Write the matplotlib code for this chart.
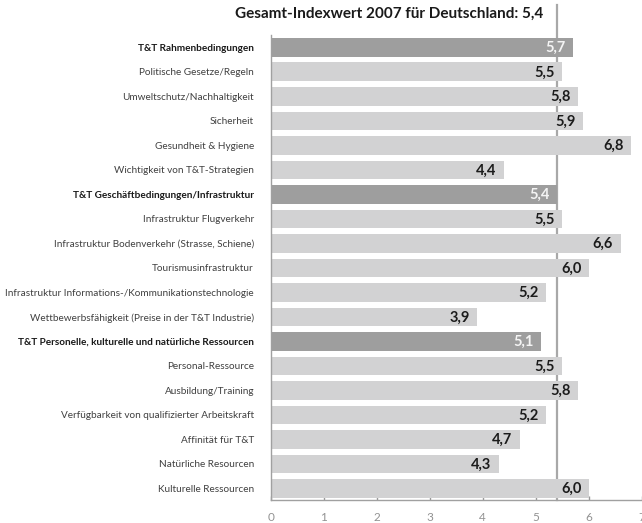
import matplotlib
matplotlib.use("Agg")
import matplotlib.pyplot as plt

categories = [
    "T&T Rahmenbedingungen",
    "Politische Gesetze/Regeln",
    "Umweltschutz/Nachhaltigkeit",
    "Sicherheit",
    "Gesundheit & Hygiene",
    "Wichtigkeit von T&T-Strategien",
    "T&T Geschäftbedingungen/Infrastruktur",
    "Infrastruktur Flugverkehr",
    "Infrastruktur Bodenverkehr (Strasse, Schiene)",
    "Tourismusinfrastruktur",
    "Infrastruktur Informations-/Kommunikationstechnologie",
    "Wettbewerbsfähigkeit (Preise in der T&T Industrie)",
    "T&T Personelle, kulturelle und natürliche Ressourcen",
    "Personal-Ressource",
    "Ausbildung/Training",
    "Verfügbarkeit von qualifizierter Arbeitskraft",
    "Affinität für T&T",
    "Natürliche Resourcen",
    "Kulturelle Ressourcen",
]
values = [5.7, 5.5, 5.8, 5.9, 6.8, 4.4, 5.4, 5.5, 6.6, 6.0, 5.2, 3.9,
          5.1, 5.5, 5.8, 5.2, 4.7, 4.3, 6.0]
is_group = [True, False, False, False, False, False, True, False, False,
            False, False, False, True, False, False, False, False, False, False]
overall = 5.4
xticks = [0, 1, 2, 3, 4, 5, 6, 7]

plt.rcParams["font.family"] = ["Lato", "DejaVu Sans"]

fig = plt.figure(figsize=(6.42, 5.23), dpi=100)
ax = fig.add_axes([0.4217, 0.044, 0.578, 0.889])

ypos = list(range(len(values)))
colors = ["#9e9e9e" if g else "#d2d2d3" for g in is_group]
ax.barh(ypos, values, height=0.76, color=colors, zorder=2)

# overall index reference line, running up past the plot into the title
ax.axvline(overall, ymin=0, ymax=1.065, color="#a8a8a8", lw=1.6,
           zorder=1, clip_on=False)

for y, v, g in zip(ypos, values, is_group):
    ax.text(v - 0.14, y + 0.03, f"{v:.1f}".replace(".", ","),
            ha="right", va="center", fontsize=10.5, fontweight="bold",
            color="#f4f4f4" if g else "#1c1c1c", zorder=3)

ax.set_xlim(0, 7)
ax.set_ylim(18.47, -0.5)
ax.set_xticks(xticks)
ax.set_xticklabels([str(t) for t in xticks])
ax.set_yticks(ypos)
ax.set_yticklabels(categories)
for lab, g in zip(ax.get_yticklabels(), is_group):
    lab.set_fontsize(7.2)
    lab.set_color("#1a1a1a" if g else "#404040")
    if g:
        lab.set_fontweight("bold")

ax.tick_params(axis="y", length=0, pad=12)
ax.tick_params(axis="x", direction="in", length=3, width=1, color="#9a9a9a",
               labelsize=8.5, labelcolor="#929292", pad=8.5)
ax.set_xticks([7], minor=True)
ax.tick_params(axis="x", which="minor", direction="in", length=10, width=1,
               color="#9a9a9a")

for side in ("top", "right"):
    ax.spines[side].set_visible(False)
for side in ("left", "bottom"):
    ax.spines[side].set_color("#a0a0a0")
    ax.spines[side].set_linewidth(1)

fig.text(0.606, 0.973, "Gesamt-Indexwert 2007 für Deutschland: 5,4",
         ha="center", va="center", fontsize=11, fontweight="bold",
         color="#1a1a1a")

fig.savefig("out.png", dpi=100)
